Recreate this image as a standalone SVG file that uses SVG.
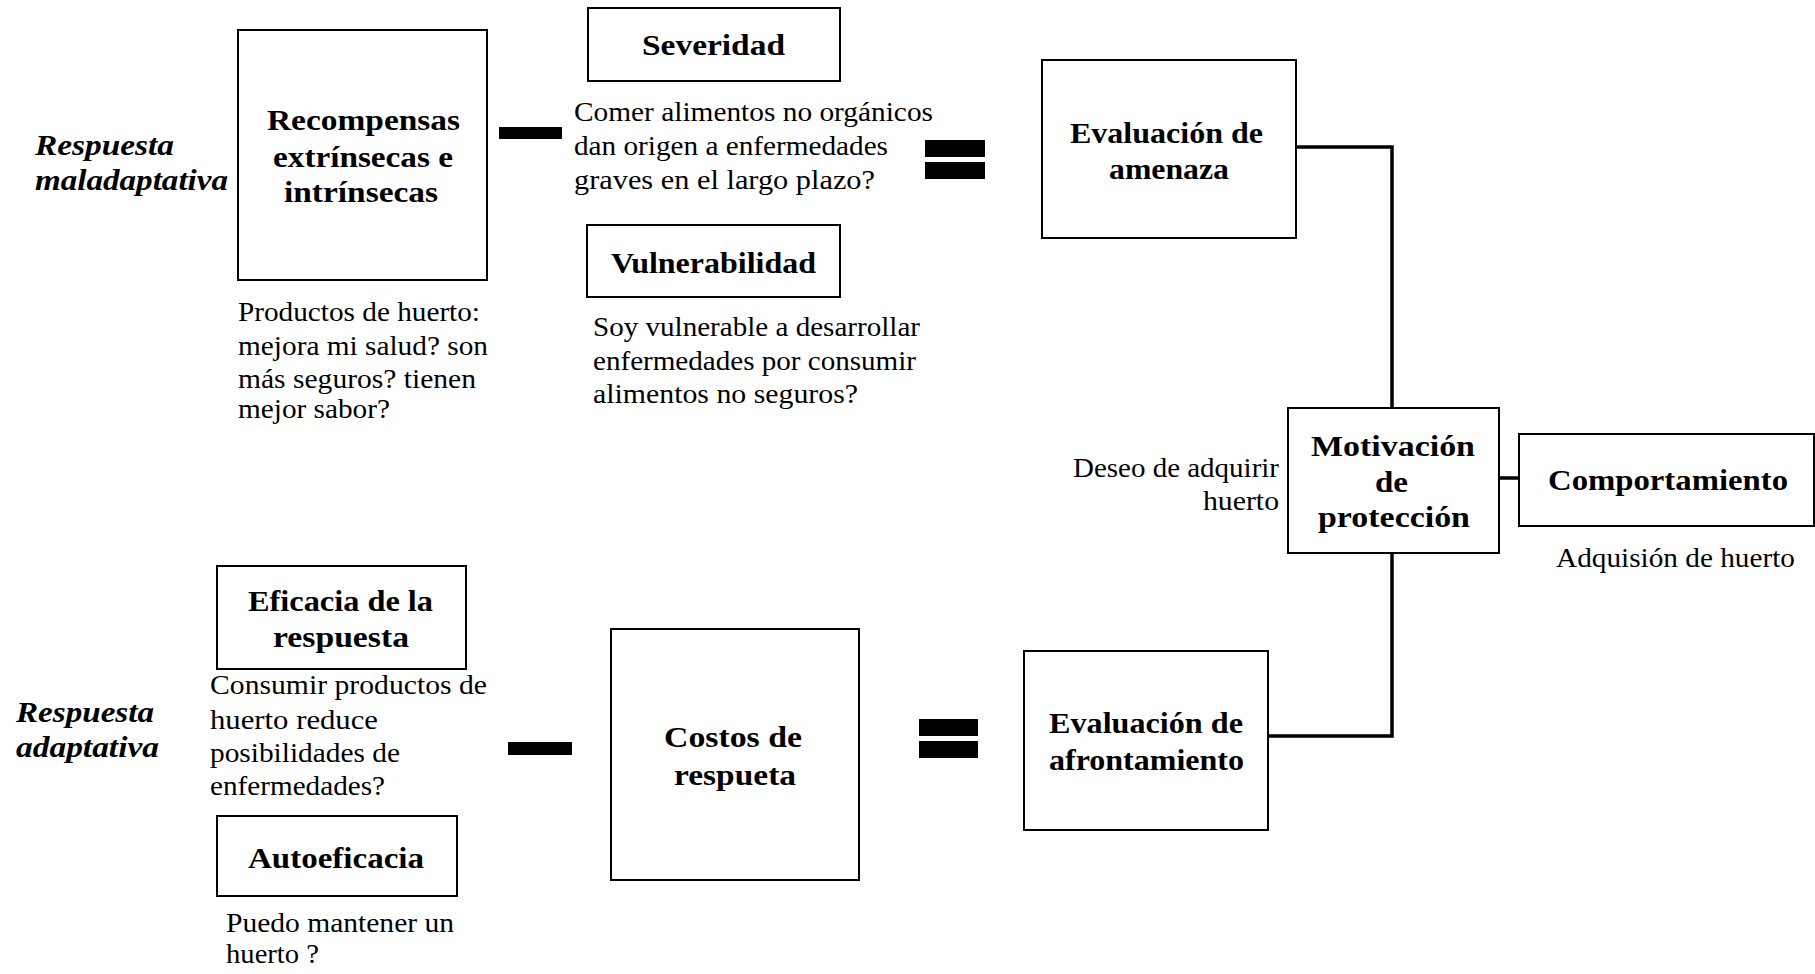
<svg xmlns="http://www.w3.org/2000/svg" width="1815" height="974" viewBox="0 0 1815 974">
<style>
.box{fill:#fff;stroke:#000;stroke-width:2}
.b{font-family:"Liberation Serif","Times New Roman",serif;font-weight:bold;font-size:30px;fill:#000}
.r{font-family:"Liberation Serif","Times New Roman",serif;font-size:28px;fill:#000}
.i{font-family:"Liberation Serif","Times New Roman",serif;font-weight:bold;font-style:italic;font-size:30px;fill:#000}
.op{fill:#000}
.conn{fill:none;stroke:#000;stroke-width:3.5}
</style>
<rect width="1815" height="974" fill="#fff"/>
<g id="connectors">
<polyline class="conn" points="1296,147 1392,147 1392,408"/>
<polyline class="conn" points="1392,553 1392,736 1268,736"/>
<line class="conn" x1="1499" y1="478" x2="1519" y2="478" stroke-width="4.5"/>
</g>
<g id="operators">
<rect class="op" x="499" y="127" width="63" height="12"/>
<rect class="op" x="925" y="140" width="60" height="17"/>
<rect class="op" x="925" y="162" width="60" height="17"/>
<rect class="op" x="508" y="742" width="64" height="13"/>
<rect class="op" x="919" y="719" width="59" height="17"/>
<rect class="op" x="919" y="741" width="59" height="17"/>
</g>
<g id="label-maladaptativa">
<text class="i" x="35" y="155" textLength="139" lengthAdjust="spacingAndGlyphs">Respuesta</text>
<text class="i" x="35" y="190" textLength="193" lengthAdjust="spacingAndGlyphs">maladaptativa</text>
</g>
<g id="label-adaptativa">
<text class="i" x="16" y="722" textLength="138" lengthAdjust="spacingAndGlyphs">Respuesta</text>
<text class="i" x="16" y="757" textLength="143" lengthAdjust="spacingAndGlyphs">adaptativa</text>
</g>
<g id="recompensas">
<rect class="box" x="238" y="30" width="249" height="250"/>
<text class="b" x="267" y="130" textLength="193" lengthAdjust="spacingAndGlyphs">Recompensas</text>
<text class="b" x="273" y="167" textLength="180" lengthAdjust="spacingAndGlyphs">extrínsecas e</text>
<text class="b" x="284" y="202" textLength="154" lengthAdjust="spacingAndGlyphs">intrínsecas</text>
<text class="r" x="238" y="321" textLength="242" lengthAdjust="spacingAndGlyphs">Productos de huerto:</text>
<text class="r" x="238" y="355" textLength="250" lengthAdjust="spacingAndGlyphs">mejora mi salud? son</text>
<text class="r" x="238" y="388" textLength="238" lengthAdjust="spacingAndGlyphs">más seguros? tienen</text>
<text class="r" x="238" y="418" textLength="152" lengthAdjust="spacingAndGlyphs">mejor sabor?</text>
</g>
<g id="severidad">
<rect class="box" x="588" y="8" width="252" height="73"/>
<text class="b" x="642" y="55" textLength="143" lengthAdjust="spacingAndGlyphs">Severidad</text>
<text class="r" x="574" y="121" textLength="359" lengthAdjust="spacingAndGlyphs">Comer  alimentos no orgánicos</text>
<text class="r" x="574" y="155" textLength="314" lengthAdjust="spacingAndGlyphs">dan origen a enfermedades</text>
<text class="r" x="574" y="189" textLength="301" lengthAdjust="spacingAndGlyphs">graves en el largo plazo?</text>
</g>
<g id="vulnerabilidad">
<rect class="box" x="587" y="225" width="253" height="72"/>
<text class="b" x="611" y="273" textLength="205" lengthAdjust="spacingAndGlyphs">Vulnerabilidad</text>
<text class="r" x="593" y="336" textLength="327" lengthAdjust="spacingAndGlyphs">Soy vulnerable a desarrollar</text>
<text class="r" x="593" y="370" textLength="323" lengthAdjust="spacingAndGlyphs">enfermedades por consumir</text>
<text class="r" x="593" y="403" textLength="265" lengthAdjust="spacingAndGlyphs">alimentos no seguros?</text>
</g>
<g id="evaluacion-amenaza">
<rect class="box" x="1042" y="60" width="254" height="178"/>
<text class="b" x="1070" y="143" textLength="193" lengthAdjust="spacingAndGlyphs">Evaluación de</text>
<text class="b" x="1109" y="179" textLength="120" lengthAdjust="spacingAndGlyphs">amenaza</text>
</g>
<g id="motivacion">
<rect class="box" x="1288" y="408" width="211" height="145"/>
<text class="b" x="1311" y="456" textLength="164" lengthAdjust="spacingAndGlyphs">Motivación</text>
<text class="b" x="1375" y="492" textLength="33" lengthAdjust="spacingAndGlyphs">de</text>
<text class="b" x="1318" y="527" textLength="152" lengthAdjust="spacingAndGlyphs">protección</text>
<text class="r" x="1279" y="477" text-anchor="end" textLength="206" lengthAdjust="spacingAndGlyphs">Deseo de adquirir</text>
<text class="r" x="1279" y="510" text-anchor="end" textLength="76" lengthAdjust="spacingAndGlyphs">huerto</text>
</g>
<g id="comportamiento">
<rect class="box" x="1519" y="434" width="295" height="92"/>
<text class="b" x="1548" y="490" textLength="240" lengthAdjust="spacingAndGlyphs">Comportamiento</text>
<text class="r" x="1556" y="567" textLength="239" lengthAdjust="spacingAndGlyphs">Adquisión de huerto</text>
</g>
<g id="eficacia">
<rect class="box" x="217" y="566" width="249" height="103"/>
<text class="b" x="248" y="611" textLength="185" lengthAdjust="spacingAndGlyphs">Eficacia de la</text>
<text class="b" x="273" y="647" textLength="136" lengthAdjust="spacingAndGlyphs">respuesta</text>
<text class="r" x="210" y="694" textLength="277" lengthAdjust="spacingAndGlyphs">Consumir productos de</text>
<text class="r" x="210" y="729" textLength="168" lengthAdjust="spacingAndGlyphs">huerto  reduce</text>
<text class="r" x="210" y="762" textLength="190" lengthAdjust="spacingAndGlyphs">posibilidades de</text>
<text class="r" x="210" y="795" textLength="175" lengthAdjust="spacingAndGlyphs">enfermedades?</text>
</g>
<g id="autoeficacia">
<rect class="box" x="217" y="816" width="240" height="80"/>
<text class="b" x="248" y="868" textLength="176" lengthAdjust="spacingAndGlyphs">Autoeficacia</text>
<text class="r" x="226" y="932" textLength="228" lengthAdjust="spacingAndGlyphs">Puedo mantener un</text>
<text class="r" x="226" y="963" textLength="93" lengthAdjust="spacingAndGlyphs">huerto ?</text>
</g>
<g id="costos">
<rect class="box" x="611" y="629" width="248" height="251"/>
<text class="b" x="664" y="747" textLength="138" lengthAdjust="spacingAndGlyphs">Costos de</text>
<text class="b" x="674" y="785" textLength="122" lengthAdjust="spacingAndGlyphs">respueta</text>
</g>
<g id="evaluacion-afrontamiento">
<rect class="box" x="1024" y="651" width="244" height="179"/>
<text class="b" x="1049" y="733" textLength="194" lengthAdjust="spacingAndGlyphs">Evaluación de</text>
<text class="b" x="1049" y="770" textLength="195" lengthAdjust="spacingAndGlyphs">afrontamiento</text>
</g>
</svg>
